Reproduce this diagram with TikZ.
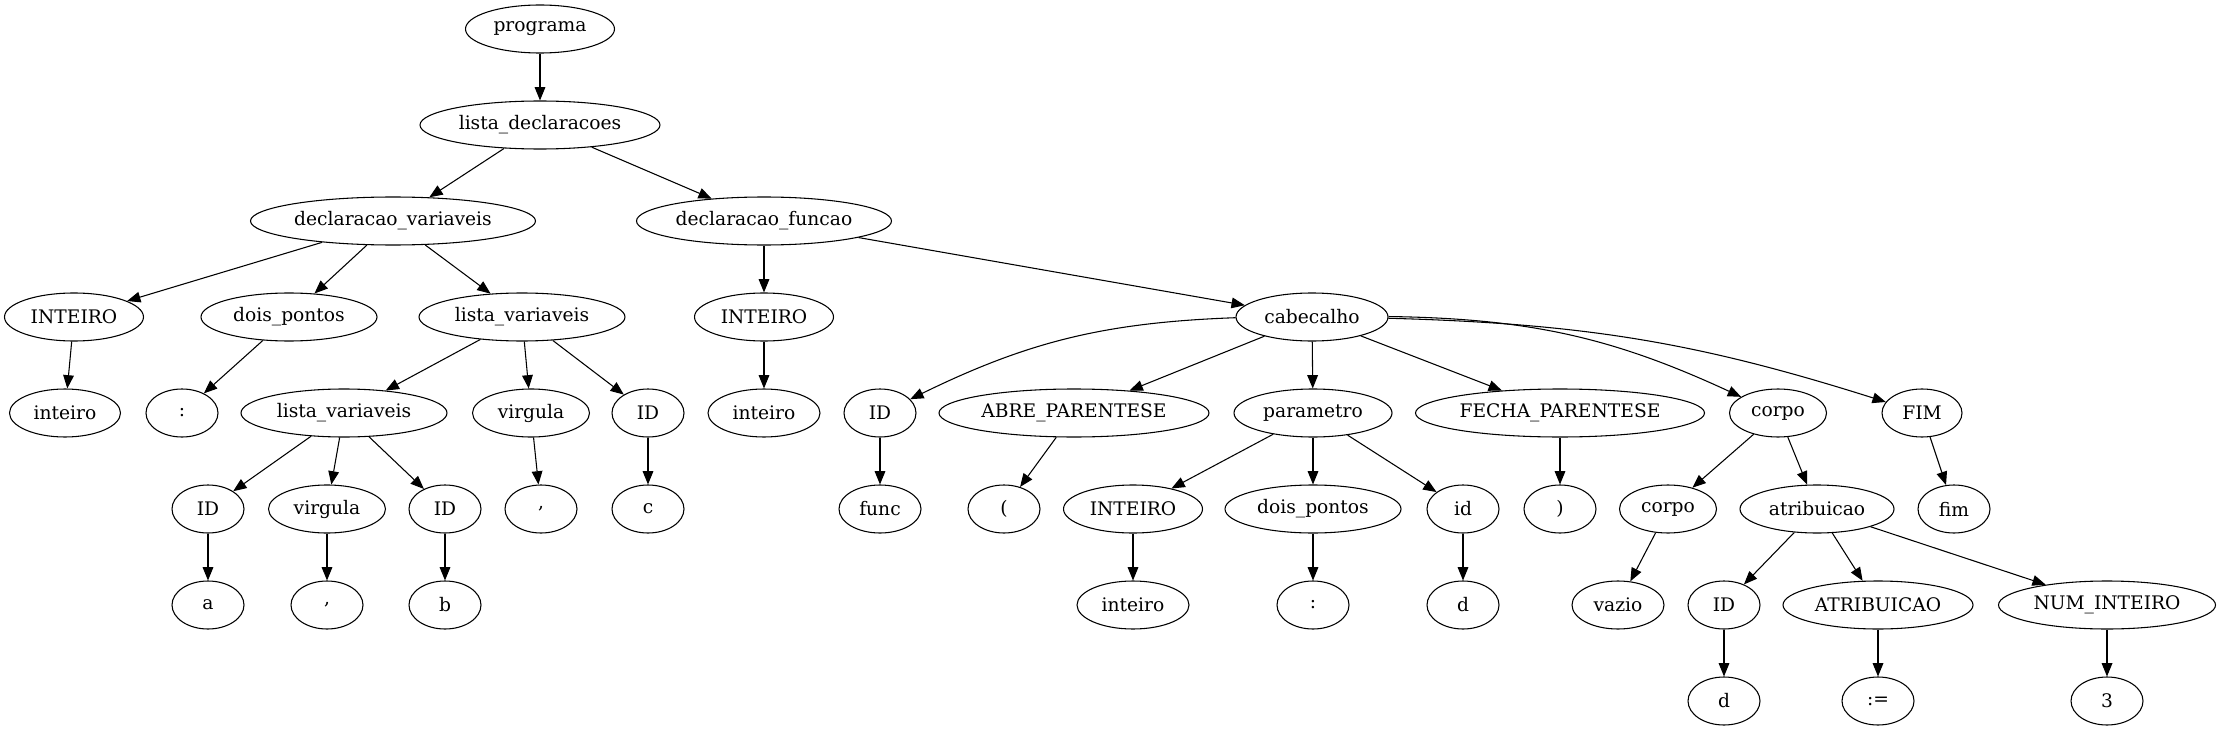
\documentclass[tikz,border=0pt]{standalone}
\usepackage{fontspec}
\setmainfont{DejaVu Serif}
\usetikzlibrary{shapes.geometric,arrows.meta}

\begin{document}
\begin{tikzpicture}[x=0.75pt,y=-0.75pt,
  tn/.style={draw,ellipse,line width=0.8pt,inner sep=0pt,minimum height=36pt,
    minimum width=#1*0.75pt,font=\fontsize{14pt}{17pt}\selectfont},
  tn/.default=72,
  edge/.style={line width=0.8pt,-{Triangle[length=10pt,width=8pt]}}]
  \useasboundingbox (0,0) rectangle (2220,731);
  % rows 0-2
  \node[tn=149] (prog) at (540,29) {programa};
  \node[tn=240] (ldecl) at (540,125) {lista\_declaracoes};
  \node[tn=285] (dvar) at (393,221) {declaracao\_variaveis};
  \node[tn=255] (dfun) at (764,221) {declaracao\_funcao};
  % row 3
  \node[tn=139] (int1) at (74,317) {INTEIRO};
  \node[tn=176] (dp1) at (289,317) {dois\_pontos};
  \node[tn=206] (lvar1) at (522,317) {lista\_variaveis};
  \node[tn=139] (int2) at (764,317) {INTEIRO};
  \node[tn=152] (cab) at (1312,317) {cabecalho};
  % row 4
  \node[tn=111] (int1t) at (65,413) {inteiro};
  \node[tn] (colon1) at (182,413) {:};
  \node[tn=206] (lvar2) at (344,413) {lista\_variaveis};
  \node[tn=117] (virg1) at (531,413) {virgula};
  \node[tn] (id1) at (648,413) {ID};
  \node[tn=112] (int2t) at (764,413) {inteiro};
  \node[tn] (id2) at (880,413) {ID};
  \node[tn=270] (abre) at (1074,413) {ABRE\_PARENTESE};
  \node[tn=158] (param) at (1313,413) {parametro};
  \node[tn=289] (fecha) at (1560,413) {FECHA\_PARENTESE};
  \node[tn=97] (corpo1) at (1778,413) {corpo};
  \node[tn=80] (fim1) at (1922,413) {FIM};
  % row 5
  \node[tn] (id3) at (208,509) {ID};
  \node[tn=117] (virg2) at (327,509) {virgula};
  \node[tn] (id4) at (445,509) {ID};
  \node[tn] (comma1) at (541,509) {,};
  \node[tn] (c) at (648,509) {c};
  \node[tn=82] (func) at (880,509) {func};
  \node[tn] (lpar) at (1004,509) {(};
  \node[tn=139] (int3) at (1133,509) {INTEIRO};
  \node[tn=176] (dp2) at (1313,509) {dois\_pontos};
  \node[tn] (id5) at (1463,509) {id};
  \node[tn] (rpar) at (1560,509) {)};
  \node[tn=97] (corpo2) at (1668,509) {corpo};
  \node[tn=154] (atrib) at (1817,509) {atribuicao};
  \node[tn] (fim2) at (1954,509) {fim};
  % row 6
  \node[tn] (a) at (208,605) {a};
  \node[tn] (comma2) at (327,605) {,};
  \node[tn] (b) at (445,605) {b};
  \node[tn=112] (int3t) at (1133,605) {inteiro};
  \node[tn] (colon2) at (1313,605) {:};
  \node[tn] (d1) at (1463,605) {d};
  \node[tn=92] (vazio) at (1618,605) {vazio};
  \node[tn] (id6) at (1724,605) {ID};
  \node[tn=190] (atr) at (1878,605) {ATRIBUICAO};
  \node[tn=217] (numint) at (2107,605) {NUM\_INTEIRO};
  % row 7
  \node[tn] (d2) at (1724,701) {d};
  \node[tn] (assign) at (1878,701) {:=};
  \node[tn] (three) at (2107,701) {3};
  % edges
  \foreach \p/\q in {prog/ldecl, ldecl/dvar, ldecl/dfun, dvar/int1, dvar/dp1, dvar/lvar1,
      int1/int1t, dp1/colon1, lvar1/lvar2, lvar1/virg1, lvar1/id1, lvar2/id3, lvar2/virg2,
      lvar2/id4, virg1/comma1, id1/c, id3/a, virg2/comma2, id4/b, dfun/int2, dfun/cab,
      int2/int2t, cab/abre, cab/param, cab/fecha, id2/func, abre/lpar, param/int3,
      param/dp2, param/id5, int3/int3t, dp2/colon2, id5/d1, fecha/rpar, corpo1/corpo2,
      corpo1/atrib, fim1/fim2, corpo2/vazio, atrib/id6, atrib/atr, atrib/numint,
      id6/d2, atr/assign, numint/three} {
    \draw[edge] (\p) -- (\q);
  }
  \draw[edge] (cab) to[bend right=12] (id2);
  \draw[edge] (cab) to[bend left=12] (corpo1);
  \draw[edge] (cab) to[bend left=8] (fim1);
\end{tikzpicture}
\end{document}
